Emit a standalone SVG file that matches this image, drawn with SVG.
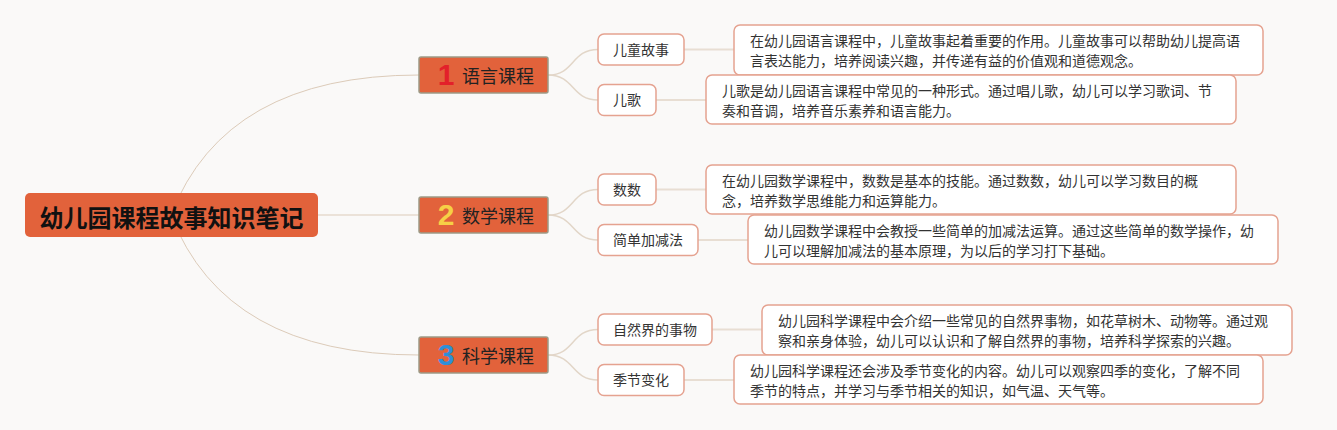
<svg xmlns="http://www.w3.org/2000/svg" width="1337" height="430" viewBox="0 0 1337 430">
<style>
.cjk{font-family:"Noto Sans CJK SC","Noto Sans",sans-serif}
.root-box{fill:#e2623b}
.root-t{font-size:24px;font-weight:700;fill:#111;text-anchor:middle}
.br-box{fill:#e2623b;stroke:#9d9a86;stroke-width:1.5}
.br-t{font-size:18px;fill:#222}
.num{font-family:"Liberation Sans","Noto Sans",sans-serif;font-size:30px;font-weight:700;text-anchor:middle}
.leaf-box{fill:#fff;stroke:#e5a290;stroke-width:1.5}
.leaf-t{font-size:14px;fill:#333;text-anchor:middle}
.desc-box{fill:#fff;stroke:#e5a290;stroke-width:1.5}
.desc-t{font-size:14px;fill:#333}
.c-root{fill:none;stroke:#dccbb9;stroke-width:1}
.c-br{fill:none;stroke:#e2d6c8;stroke-width:1.5}
.c-leaf{fill:none;stroke:#e8ded3;stroke-width:2}
</style>
<rect width="1337" height="430" fill="#faf9f8"/>
<g id="connectors">
<path class="c-root" d="M171,215 Q225,75 419,75"/>
<path class="c-root" d="M318,215 L419,215"/>
<path class="c-root" d="M171,215 Q225,355 419,355"/>
<path class="c-br" d="M548,75 C575,75 571,49.5 598,49.5"/>
<path class="c-br" d="M548,75 C575,75 571,100 598,100"/>
<path class="c-br" d="M548,215 C575,215 571,189.5 598,189.5"/>
<path class="c-br" d="M548,215 C575,215 571,240 598,240"/>
<path class="c-br" d="M548,355 C575,355 571,329.5 598,329.5"/>
<path class="c-br" d="M548,355 C575,355 571,380 598,380"/>
<path class="c-leaf" d="M684,49.5 L734,49.5"/>
<path class="c-leaf" d="M656,100 L706,100"/>
<path class="c-leaf" d="M656,189.5 L706,189.5"/>
<path class="c-leaf" d="M698,240 L748,240"/>
<path class="c-leaf" d="M712,329.5 L762,329.5"/>
<path class="c-leaf" d="M684,380 L734,380"/>
</g>
<g id="root">
<rect class="root-box" x="25" y="193" width="293" height="44" rx="5"/>
<text class="cjk root-t" x="171.5" y="226.5">幼儿园课程故事知识笔记</text>
</g>
<g id="branch1">
<rect class="br-box" x="419" y="57" width="129" height="36" rx="2"/>
<text class="num" x="446" y="85" fill="#e3202a">1</text>
<text class="cjk br-t" x="462" y="82.5">语言课程</text>
</g>
<g id="branch2">
<rect class="br-box" x="419" y="197" width="129" height="36" rx="2"/>
<text class="num" x="446" y="225" fill="#f6d046">2</text>
<text class="cjk br-t" x="462" y="222.5">数学课程</text>
</g>
<g id="branch3">
<rect class="br-box" x="419" y="337" width="129" height="36" rx="2"/>
<text class="num" x="446" y="365" fill="#2e8fd8">3</text>
<text class="cjk br-t" x="462" y="362.5">科学课程</text>
</g>
<g id="leaf-ertong">
<rect class="leaf-box" x="598" y="34" width="86" height="31" rx="6"/>
<text class="cjk leaf-t" x="641" y="54.5">儿童故事</text>
</g>
<g id="leaf-erge">
<rect class="leaf-box" x="598" y="84.5" width="58" height="31" rx="6"/>
<text class="cjk leaf-t" x="627" y="105">儿歌</text>
</g>
<g id="leaf-shushu">
<rect class="leaf-box" x="598" y="174" width="58" height="31" rx="6"/>
<text class="cjk leaf-t" x="627" y="194.5">数数</text>
</g>
<g id="leaf-jiajian">
<rect class="leaf-box" x="598" y="224.5" width="100" height="31" rx="6"/>
<text class="cjk leaf-t" x="648" y="245">简单加减法</text>
</g>
<g id="leaf-ziran">
<rect class="leaf-box" x="598" y="314" width="114" height="31" rx="6"/>
<text class="cjk leaf-t" x="655" y="334.5">自然界的事物</text>
</g>
<g id="leaf-jijie">
<rect class="leaf-box" x="598" y="364.5" width="86" height="31" rx="6"/>
<text class="cjk leaf-t" x="641" y="385">季节变化</text>
</g>
<g id="desc-ertong">
<rect class="desc-box" x="734" y="25" width="529" height="50" rx="6"/>
<text class="cjk desc-t" x="750" y="46">在幼儿园语言课程中，儿童故事起着重要的作用。儿童故事可以帮助幼儿提高语</text>
<text class="cjk desc-t" x="750" y="66">言表达能力，培养阅读兴趣，并传递有益的价值观和道德观念。</text>
</g>
<g id="desc-erge">
<rect class="desc-box" x="706" y="75" width="530" height="49" rx="6"/>
<text class="cjk desc-t" x="722" y="95.5">儿歌是幼儿园语言课程中常见的一种形式。通过唱儿歌，幼儿可以学习歌词、节</text>
<text class="cjk desc-t" x="722" y="115.5">奏和音调，培养音乐素养和语言能力。</text>
</g>
<g id="desc-shushu">
<rect class="desc-box" x="706" y="165" width="530" height="49" rx="6"/>
<text class="cjk desc-t" x="722" y="185.5">在幼儿园数学课程中，数数是基本的技能。通过数数，幼儿可以学习数目的概</text>
<text class="cjk desc-t" x="722" y="205.5">念，培养数学思维能力和运算能力。</text>
</g>
<g id="desc-jiajian">
<rect class="desc-box" x="748" y="215" width="530" height="49" rx="6"/>
<text class="cjk desc-t" x="764" y="235.5">幼儿园数学课程中会教授一些简单的加减法运算。通过这些简单的数学操作，幼</text>
<text class="cjk desc-t" x="764" y="255.5">儿可以理解加减法的基本原理，为以后的学习打下基础。</text>
</g>
<g id="desc-ziran">
<rect class="desc-box" x="762" y="305" width="530" height="50" rx="6"/>
<text class="cjk desc-t" x="778" y="326">幼儿园科学课程中会介绍一些常见的自然界事物，如花草树木、动物等。通过观</text>
<text class="cjk desc-t" x="778" y="346">察和亲身体验，幼儿可以认识和了解自然界的事物，培养科学探索的兴趣。</text>
</g>
<g id="desc-jijie">
<rect class="desc-box" x="734" y="355" width="529" height="49" rx="6"/>
<text class="cjk desc-t" x="750" y="375.5">幼儿园科学课程还会涉及季节变化的内容。幼儿可以观察四季的变化，了解不同</text>
<text class="cjk desc-t" x="750" y="395.5">季节的特点，并学习与季节相关的知识，如气温、天气等。</text>
</g>
</svg>
